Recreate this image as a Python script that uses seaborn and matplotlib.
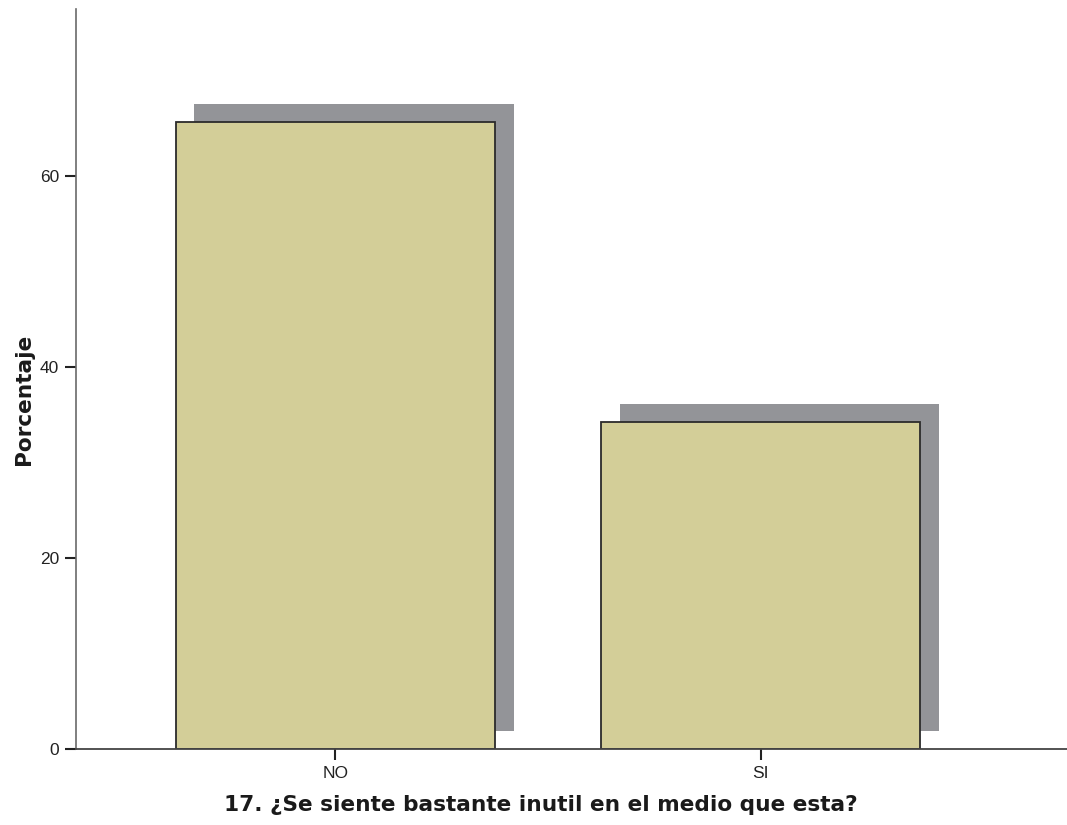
import matplotlib
matplotlib.use("Agg")
import matplotlib.pyplot as plt
import matplotlib.transforms as mtransforms
import seaborn as sns
import pandas as pd

categories = ["NO", "SI"]
percentages = [65.7, 34.3]
y_ticks = [0, 20, 40, 60]

x_title = "17. ¿Se siente bastante inutil en el medio que esta?"
y_title = "Porcentaje"

sns.set_style("white")
plt.rcParams["font.family"] = ["Liberation Sans", "DejaVu Sans"]

df = pd.DataFrame({"cat": categories, "pct": percentages})

fig = plt.figure(figsize=(10.67, 8.25), dpi=100)
ax = fig.add_axes([0.0708, 0.0918, 0.9292, 0.8969])

# drop shadow: same bars, shifted right and up
sns.barplot(data=df, x="cat", y="pct", ax=ax, width=0.751,
            color="#939498", saturation=1, edgecolor="none", linewidth=0)
shift = mtransforms.ScaledTranslation(0.185, 0.18, fig.dpi_scale_trans)
for p in ax.patches:
    p.set_transform(ax.transData + shift)
    p.set_zorder(1)

n_shadow = len(ax.patches)
sns.barplot(data=df, x="cat", y="pct", ax=ax, width=0.751,
            color="#D3CE98", saturation=1, edgecolor="#2b2b2b", linewidth=1.3)
for p in ax.patches[n_shadow:]:
    p.set_zorder(2)

ax.set_xlim(-0.611, 1.72)
ax.set_ylim(0, 77.5)
ax.set_yticks(y_ticks)
ax.set_yticklabels([str(t) for t in y_ticks])

for s in ["top", "right"]:
    ax.spines[s].set_visible(False)
ax.spines["left"].set_color("#6a6a6a")
ax.spines["left"].set_linewidth(1.2)
ax.spines["bottom"].set_color("#444444")
ax.spines["bottom"].set_linewidth(1.3)

ax.tick_params(axis="both", which="major", direction="out", length=8,
               width=1.5, color="#222222", labelsize=12.5, labelcolor="#222222",
               left=True, bottom=True, pad=4)

ax.set_xlabel(x_title, fontsize=15.6, fontweight="bold", color="#1a1a1a",
              family=["DejaVu Sans"])
ax.set_ylabel(y_title, fontsize=15.6, fontweight="bold", color="#1a1a1a",
              family=["DejaVu Sans"])
ax.xaxis.label.set_va("baseline")
ax.yaxis.label.set_va("baseline")
ax.xaxis.set_label_coords(0.4695, -0.083)
ax.yaxis.set_label_coords(-0.0464, 0.4735)

fig.savefig("out.png", dpi=100)
